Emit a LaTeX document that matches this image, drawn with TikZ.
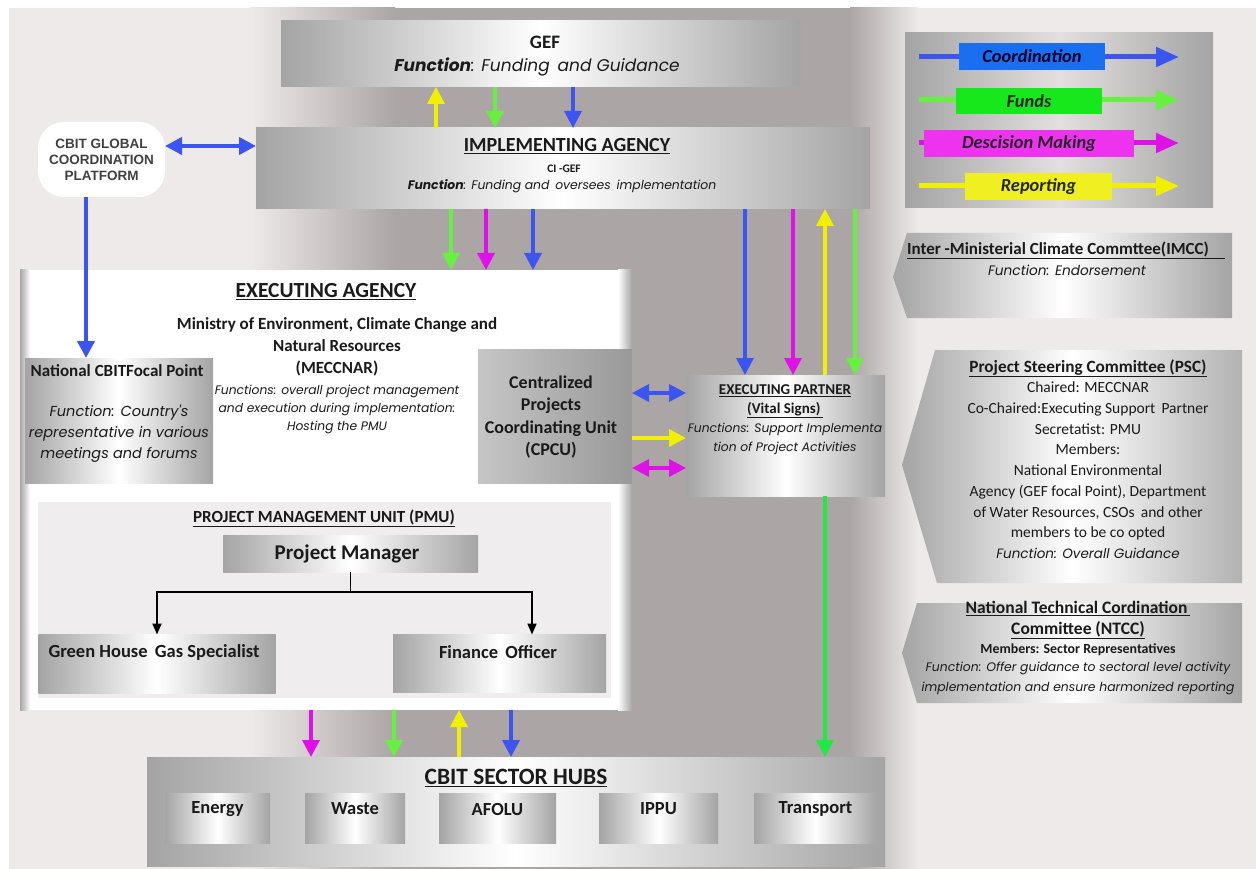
\documentclass[tikz,border=0pt]{standalone}
\usepackage{fontspec}
\setmainfont{Carlito}
\newfontfamily\popf{Poppins}
\newfontfamily\arialf{Liberation Sans}
\usetikzlibrary{arrows.meta}
\newcommand\fsz[2]{\fontsize{#1}{#2}\selectfont}
\newcommand\itf{\popf\itshape}
\newcommand\fnc[1]{{\bfseries #1}}
\definecolor{bgL}{HTML}{EEEAE9}
\definecolor{bgD}{HTML}{ABA6A5}
\definecolor{mgr}{HTML}{A4A4A4}
\definecolor{cblue}{HTML}{3D55F0}
\definecolor{cgreen}{HTML}{66F040}
\definecolor{cmag}{HTML}{E010E8}
\definecolor{cyel}{HTML}{F0F000}
\definecolor{cgreen2}{HTML}{22E844}
\definecolor{lblue}{HTML}{1A6FF0}
\definecolor{lgreen}{HTML}{17E81C}
\definecolor{lmag}{HTML}{EE33EE}
\definecolor{lyel}{HTML}{F0F020}
\definecolor{pmubg}{HTML}{EFEDEE}
\definecolor{txtc}{HTML}{1A1A1A}
\begin{document}
\begin{tikzpicture}[x=1pt,y=-1pt,
  bx/.style 2 args={minimum width=#1pt, minimum height=#2pt, inner sep=0pt, outer sep=0pt},
  metal/.style={draw=none, left color=mgr, right color=mgr, middle color=white},
  txt/.style={inner sep=0pt, align=center, text=txtc},
  flowv/.style={line width=3.5pt, -{Triangle[length=17pt,width=17pt]}},
  flowd/.style={line width=3.5pt, {Triangle[length=17pt,width=17pt]}-{Triangle[length=17pt,width=17pt]}},
  lgarrow/.style={line width=5pt, -{Triangle[length=23pt,width=19pt]}},
  tree/.style={line width=1.8pt, -{Triangle[length=11pt,width=9pt]}},
]
\useasboundingbox (0,0) rectangle (1256,869);
% background
\fill[white] (0,0) rectangle (1256,869);
\fill[bgL] (9,8) rectangle (1256,869);
\shade[left color=bgL, right color=bgD] (250,8) rectangle (395,869);
\fill[bgD] (394.5,8) rectangle (850.5,869);
\shade[left color=bgD, right color=bgL] (850,8) rectangle (918,869);

% GEF
\node[metal, bx={519}{66}] (gef) at (540.5,54) {};
\node[txt, font=\fsz{19}{22}\bfseries] (geft) at (545,42) {GEF};
\node[txt, font=\fsz{17}{20}\itf] (geff) at (537,67) {\fnc{Function}: Funding\, and Guidance};

% Implementing agency
\node[metal, bx={614}{81}] (ia) at (563,168.5) {};
\node[txt, font=\fsz{20}{23}\bfseries] (iat) at (567,146) {\underline{IMPLEMENTING AGENCY}};
\node[txt, font=\fsz{11.5}{13}\bfseries] (iac) at (564,169) {CI -GEF};
\node[txt, font=\fsz{12.4}{14}\itf] (iaf) at (562,186) {\fnc{Function}: Funding and\, oversees\, implementation};

% CBIT global coordination platform
\node[fill=white, rounded corners=26pt, bx={127}{75}, font=\arialf\bfseries\fsz{13.5}{16}, align=center, text=black!75] (gcp) at (101.5,159.5) {CBIT GLOBAL\\COORDINATION\\PLATFORM};

% Legend
\node[draw=none, left color=mgr, right color=mgr, middle color=bgL!90!gray, bx={308}{175}] (leg) at (1059,120.5) {};
\coordinate (lc0) at (919,57);  \coordinate (lc1) at (1179,57);
\coordinate (lf0) at (919,100); \coordinate (lf1) at (1179,100);
\coordinate (ld0) at (919,143); \coordinate (ld1) at (1179,143);
\coordinate (lr0) at (919,186); \coordinate (lr1) at (1179,186);
\draw[lgarrow, cblue] (lc0) -- (lc1);
\draw[lgarrow, cgreen] (lf0) -- (lf1);
\draw[lgarrow, cmag] (ld0) -- (ld1);
\draw[lgarrow, cyel] (lr0) -- (lr1);
\node[fill=lblue, bx={146}{27}, font=\fsz{18.4}{20}\bfseries\itshape, text=black!85!blue] (lcn) at (1032,56.5) {Coordination};
\node[fill=lgreen, bx={146}{26}, font=\fsz{18.4}{20}\bfseries\itshape, text=black!85] (lfn) at (1029,101) {Funds};
\node[fill=lmag, bx={210}{27}, font=\fsz{18.4}{20}\bfseries\itshape, text=black!85] (ldn) at (1029,143.5) {Descision Making};
\node[fill=lyel, bx={147}{27}, font=\fsz{18.4}{20}\bfseries\itshape, text=black!85] (lrn) at (1038.5,186.5) {Reporting};

% IMCC
\shade[left color=mgr, right color=mgr, middle color=white] (907,233) -- (1232,233) -- (1232,318) -- (907,318) -- (893,277) -- cycle;
\node[txt, font=\fsz{17}{20}\bfseries] (imcct) at (1066,250) {\underline{Inter -Ministerial Climate Commttee(IMCC)\hspace{16pt}}};
\node[txt, font=\fsz{13.7}{16}\itf] (imccf) at (1067,270) {Function: Endorsement};

% PSC
\shade[left color=mgr, right color=mgr!85, middle color=white] (935,350) -- (1242,350) -- (1242,583) -- (937,583) -- (902,465) -- cycle;
\node[txt, font=\fsz{15.5}{20.7}] (psct) at (1088,459) {{\fsz{17.2}{20.7}\bfseries\underline{Project Steering Committee (PSC)}}\\
Chaired: MECCNAR\\
Co-Chaired:Executing Support\, Partner\\
Secretatist: PMU\\
Members:\\
National Environmental\\
Agency (GEF focal Point), Department\\
of Water Resources, CSOs\, and other\\
members to be co opted\\
{\itf\fsz{13.5}{20.7}Function: Overall Guidance}};

% NTCC
\shade[left color=mgr, right color=mgr, middle color=white] (917,603) -- (1242,603) -- (1242,703) -- (917,703) -- (902,653) -- cycle;
\node[txt, font=\fsz{17.5}{21}\bfseries] (ntct) at (1078,620) {\underline{National Technical Cordination\,}\\\underline{Committee (NTCC)}};
\node[txt, font=\fsz{13.9}{15}\bfseries] (ntcm) at (1078,650) {Members: Sector Representatives};
\node[txt, font=\fsz{12.4}{20}\itf] (ntcf) at (1078,678) {Function: Offer guidance to sectoral level activity\\implementation and ensure harmonized reporting};

% Executing agency
\node[fill=white, bx={612}{440}] (ea) at (326,490) {};
\shade[left color=gray!70, right color=white] (ea.north west) rectangle ([xshift=10pt]ea.south west);
\shade[left color=white, right color=gray!70] ([xshift=-14pt]ea.north east) rectangle (ea.south east);
\node[txt, font=\fsz{21.5}{24}\bfseries] (eat) at (326,292) {\underline{EXECUTING AGENCY}};
\node[txt, font=\fsz{17}{22}\bfseries] (eam) at (337,347) {Ministry of Environment, Climate Change and\\Natural Resources\\(MECCNAR)};
\node[txt, font=\fsz{12.3}{18}\itf] (eaf) at (337,409) {Functions: overall project management\\and execution during implementation:\\Hosting the PMU};

% National CBIT focal point
\node[metal, bx={188}{125}] (nfp) at (119,420.5) {};
\node[txt, font=\fsz{17}{20}\bfseries] (nfpt) at (117,371) {National CBITFocal Point};
\node[txt, font=\fsz{14.5}{21}\itf] (nfpf) at (119,434) {Function: Country's\\representative in various\\meetings and forums};

% CPCU
\node[draw=none, left color=gray!45, middle color=white, right color=gray!80, bx={154}{134}] (cpcu) at (555,416) {};
\node[txt, font=\fsz{18}{22.5}\bfseries] (cpcut) at (551,417) {Centralized\\Projects\\Coordinating Unit\\(CPCU)};

% Executing partner
\node[metal, bx={199}{121}] (ep) at (785.5,435.5) {};
\node[txt, font=\fsz{15}{19}\bfseries] (ept) at (785,401.5) {\underline{EXECUTING PARTNER}\\\underline{(Vital Signs)\,}};
\node[txt, font=\fsz{12.3}{19}\itf] (epf) at (785,438.5) {Functions: Support Implementa\\tion of Project Activities};

% PMU
\node[fill=pmubg, bx={573}{196}] (pmu) at (324.5,600) {};
\node[txt, font=\fsz{17}{19}\bfseries] (pmut) at (324,518) {\underline{PROJECT MANAGEMENT UNIT (PMU)}};
\node[metal, bx={255}{37}] (pm) at (350.5,553.5) {};
\node[txt, font=\fsz{21}{24}\bfseries] (pmt) at (347,554) {Project Manager};
\node[metal, bx={237}{59}] (ghg) at (157,664) {};
\node[txt, font=\fsz{18.5}{21}\bfseries] (ghgt) at (154,652) {Green House\, Gas Specialist};
\node[metal, bx={213}{58}] (fo) at (499.5,663.5) {};
\node[txt, font=\fsz{18.5}{21}\bfseries] (fot) at (498,652) {Finance\, Officer};
\coordinate (jn) at (350.5,592);
\draw[line width=1.8pt] (pm.south) -- (jn);
\draw[tree] (jn) -| (ghg.north -| 157,0);
\draw[tree] (jn) -| (fo.north -| 532,0);

% Sector hubs
\node[metal, bx={738}{109}] (hubs) at (516,811.5) {};
\node[txt, font=\fsz{23.4}{26}\bfseries] (hubst) at (516,778) {\underline{CBIT SECTOR HUBS}};
\node[metal, bx={105}{50}] (hen) at (217.5,818) {};
\node[metal, bx={100}{50}] (hwa) at (355,818) {};
\node[metal, bx={117}{50}] (haf) at (497.5,818) {};
\node[metal, bx={119}{50}] (hip) at (658.5,818) {};
\node[metal, bx={123}{50}] (htr) at (815.5,818) {};
\node[txt, font=\fsz{18.5}{21}\bfseries] (hent) at (217.5,809) {Energy};
\node[txt, font=\fsz{18.5}{21}\bfseries] (hwat) at (355,809) {Waste};
\node[txt, font=\fsz{18.5}{21}\bfseries] (haft) at (497.5,809) {AFOLU};
\node[txt, font=\fsz{18.5}{21}\bfseries] (hipt) at (658.5,809) {IPPU};
\node[txt, font=\fsz{18.5}{21}\bfseries] (htrt) at (815.5,809) {Transport};

% connectors GEF - IA
\draw[flowv, cyel] (ia.north -| 436,0) -- (gef.south -| 436,0);
\draw[flowv, cgreen] (gef.south -| 495,0) -- (ia.north -| 495,0);
\draw[flowv, cblue] (gef.south -| 573,0) -- (ia.north -| 573,0);
% GCP - IA
\draw[flowd, cblue, line width=4pt] (gcp.east |- 0,146) -- (ia.west |- 0,146);
% GCP - NFP
\draw[flowv, cblue, line width=4pt] (gcp.south -| 86,0) -- (nfp.north -| 86,0);
% IA - EA
\draw[flowv, cgreen] (ia.south -| 451,0) -- (ea.north -| 451,0);
\draw[flowv, cmag] (ia.south -| 486,0) -- (ea.north -| 486,0);
\draw[flowv, cblue] (ia.south -| 533,0) -- (ea.north -| 533,0);
% IA - EP
\draw[flowv, cblue] (ia.south -| 745,0) -- (ep.north -| 745,0);
\draw[flowv, cmag] (ia.south -| 793,0) -- (ep.north -| 793,0);
\draw[flowv, cyel] (ep.north -| 825,0) -- (ia.south -| 825,0);
\draw[flowv, cgreen] (ia.south -| 855,0) -- (ep.north -| 855,0);
% CPCU - EP
\draw[flowd, cblue] (cpcu.east |- 0,393) -- (ep.west |- 0,393);
\draw[flowv, cyel] (cpcu.east |- 0,438) -- (ep.west |- 0,438);
\draw[flowd, cmag] (cpcu.east |- 0,468) -- (ep.west |- 0,468);
% EA - hubs
\draw[flowv, cmag] (ea.south -| 311,0) -- (hubs.north -| 311,0);
\draw[flowv, cgreen] (ea.south -| 394,0) -- (hubs.north -| 394,0);
\draw[flowv, cyel] (hubs.north -| 459,0) -- (ea.south -| 459,0);
\draw[flowv, cblue] (ea.south -| 511,0) -- (hubs.north -| 511,0);
% EP - hubs
\draw[flowv, cgreen2] (ep.south -| 825,0) -- (hubs.north -| 825,0);
\end{tikzpicture}
\end{document}
